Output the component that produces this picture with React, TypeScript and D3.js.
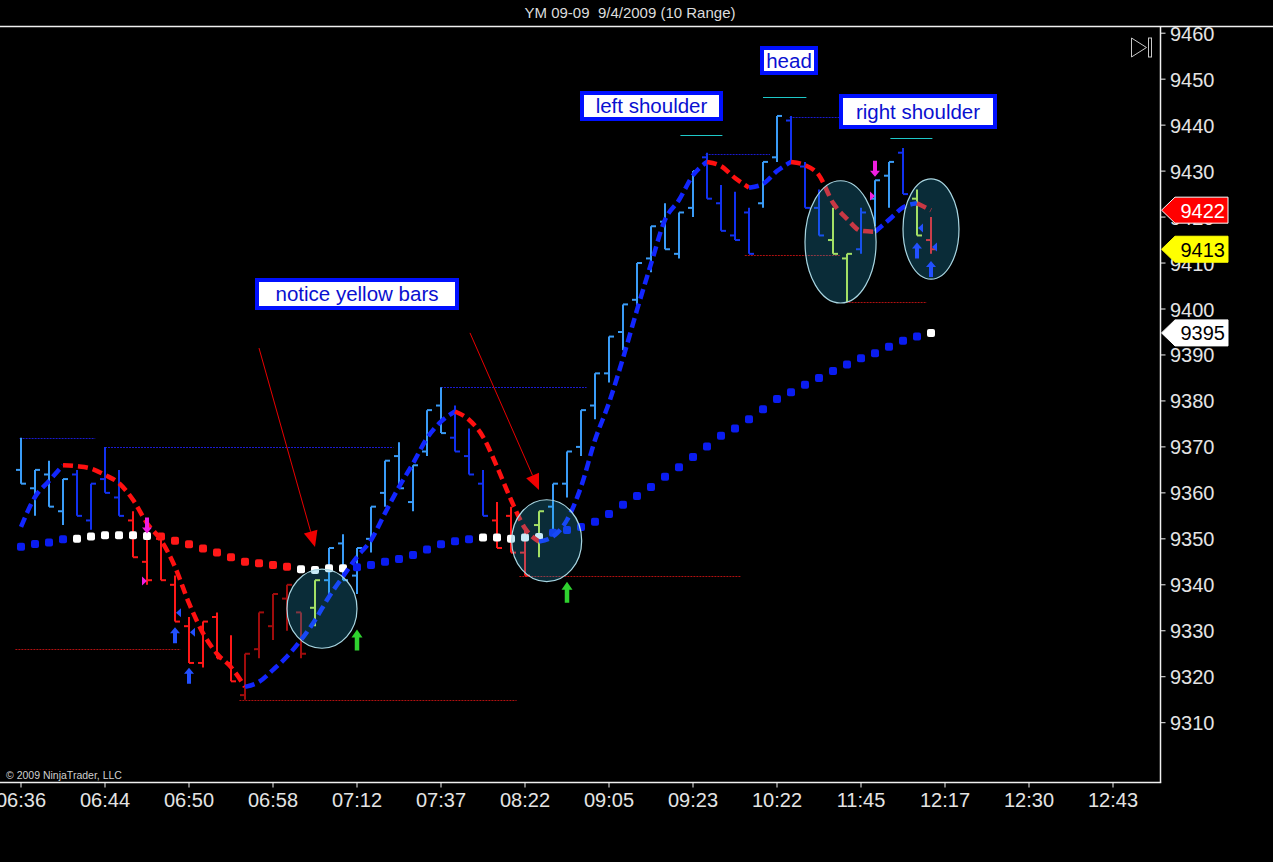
import * as d3 from "d3";
import { useEffect } from "react";

const W = 1273;
const H = 862;
const FONT = "'Liberation Sans', Arial, sans-serif";

// range bars, one per 10-point bar
const opens = [
  9365, 9361, 9364, 9356, 9364, 9354, 9363, 9359, 9354, 9345, 9350, 9340, 9331, 9323, 9333, 9323,
  9316, 9326, 9331, 9337, 9334, 9335, 9341, 9349, 9342, 9350, 9360, 9368, 9358, 9369, 9379, 9372,
  9368, 9362, 9354, 9355, 9347, 9353, 9357, 9362, 9370, 9379, 9386, 9395, 9402, 9411, 9419, 9412,
  9422, 9433, 9423, 9416, 9421, 9423, 9433, 9441, 9431, 9422, 9415, 9411, 9413, 9424, 9429, 9434,
  9424, 9415,
];
const highs = [
  9372, 9365, 9367, 9363, 9365, 9362, 9370, 9365, 9356, 9353, 9351, 9342, 9333, 9332, 9334, 9329,
  9325, 9334, 9338, 9340, 9334, 9341, 9348, 9351, 9348, 9357, 9367, 9371, 9366, 9378, 9383, 9379,
  9374, 9365, 9358, 9357, 9352, 9356, 9362, 9369, 9378, 9386, 9394, 9401, 9410, 9418, 9423, 9421,
  9430, 9434, 9427, 9425.5, 9422, 9432, 9442, 9442, 9432, 9426, 9422, 9412, 9422, 9428, 9432, 9435,
  9426, 9420,
];
const lows = [
  9362, 9355, 9357, 9353, 9355, 9352, 9360, 9355, 9346, 9340, 9341, 9332, 9323, 9322, 9324, 9319,
  9315, 9324, 9328, 9330, 9324, 9331, 9338, 9341, 9338, 9347, 9357, 9361, 9356, 9368, 9373, 9369,
  9364, 9355, 9348, 9347, 9342, 9346, 9352, 9359, 9368, 9376, 9384, 9391, 9400, 9408, 9413, 9411,
  9420, 9424, 9417, 9415, 9412, 9422, 9432, 9432, 9422, 9416, 9412, 9401.5, 9412, 9418, 9422, 9425,
  9416, 9412,
];
const closes = [
  9362, 9365, 9357, 9363, 9355, 9362, 9360, 9355, 9346, 9341, 9341, 9332, 9323, 9332, 9324, 9319,
  9325, 9334, 9338, 9340, 9325, 9341, 9348, 9341, 9348, 9357, 9367, 9361, 9366, 9378, 9373, 9369,
  9364, 9355, 9348, 9347, 9342, 9356, 9362, 9369, 9378, 9386, 9394, 9401, 9410, 9418, 9413, 9421,
  9430, 9424, 9417, 9415, 9412, 9432, 9442, 9432, 9422, 9416, 9412, 9412, 9421, 9428, 9432, 9425,
  9416, 9413,
];
const barColors = [
  "lb", "lb", "lb", "lb", "db", "db", "db", "db", "r", "r", "r", "r", "r", "r", "r", "r",
  "dr", "dr", "dr", "dr", "dr", "y", "lb", "lb", "lb", "lb", "lb", "lb", "lb", "lb", "lb", "db",
  "db", "db", "r", "r", "r", "y", "lb", "lb", "lb", "lb", "lb", "lb", "lb", "lb", "lb", "lb",
  "lb", "db", "db", "db", "db", "lb", "lb", "db", "db", "db", "y", "y", "db", "lb", "lb", "db",
  "y", "r",
];

// slow average drawn as square dots
const smaValues = [
  9348.3, 9348.9, 9349.2, 9349.9, 9350.0, 9350.5, 9350.8, 9350.8, 9350.8, 9350.6, 9350.5, 9349.6,
  9348.8, 9347.9, 9347.0, 9346.0, 9345.0, 9344.7, 9344.3, 9343.9, 9343.4, 9343.2, 9343.6, 9343.6,
  9343.8, 9344.3, 9345.0, 9345.6, 9346.5, 9347.7, 9348.8, 9349.5, 9349.9, 9350.3, 9350.3, 9350.0,
  9350.3, 9350.4, 9351.3, 9351.9, 9352.6, 9353.7, 9355.4, 9357.4, 9359.3, 9361.3, 9363.5, 9365.6,
  9367.8, 9370.1, 9372.4, 9374.0, 9376.0, 9378.2, 9380.4, 9381.9, 9383.5, 9385.0, 9386.5, 9387.9,
  9389.3, 9390.4, 9391.8, 9393.1, 9394.0, 9394.8,
];
const smaColors = [
  "b", "b", "b", "b", "w", "w", "w", "w", "w", "w", "r", "r", "r", "r", "r", "r",
  "r", "r", "r", "r", "w", "w", "w", "w", "b", "b", "b", "b", "b", "b", "b", "b",
  "b", "w", "w", "w", "w", "w", "b", "b", "b", "b", "b", "b", "b", "b", "b", "b",
  "b", "b", "b", "b", "b", "b", "b", "b", "b", "b", "b", "b", "b", "b", "b", "b",
  "b", "w",
];

// fast average drawn dashed, red while falling
const hmaValues = [
  9352.6, 9359.1, 9362.6, 9366.0, 9365.8, 9365.3, 9363.9, 9362.1, 9358.5, 9353.4, 9349.7, 9343.9,
  9336.0, 9329.5, 9325.0, 9322.1, 9317.8, 9318.9, 9321.5, 9324.4, 9328.0, 9332.3, 9337.4, 9341.8,
  9346.1, 9349.7, 9355.6, 9361.3, 9366.4, 9371.9, 9375.5, 9377.7, 9375.9, 9372.2, 9365.7, 9358.5,
  9352.3, 9349.4, 9350.5, 9354.1, 9361.3, 9371.5, 9379.6, 9389.3, 9399.8, 9409.8, 9419.4, 9423.7,
  9429.1, 9432.0, 9431.1, 9428.5, 9426.4, 9427.2, 9430.0, 9432.0, 9431.3, 9429.1, 9423.1, 9419.6,
  9417.0, 9416.8, 9419.4, 9422.1, 9423.0, 9421.5,
];

const timeLabels = [
  "06:36", "06:44", "06:50", "06:58", "07:12", "07:37", "08:22", "09:05", "09:23", "10:22",
  "11:45", "12:17", "12:30", "12:43",
];
const priceTicks = [9310, 9320, 9330, 9340, 9350, 9360, 9370, 9380, 9390, 9400, 9410, 9420, 9430, 9440, 9450, 9460];

// swing high / low lines: price, from bar, to bar
const swingPrices = [9372, 9370, 9326, 9315, 9383, 9342, 9433.7, 9411.8, 9441.8, 9401.5];
const swingFrom = [-0.1, 6, -0.4, 15.6, 30, 35.6, 48.9, 51.7, 54.9, 58.9];
const swingTo = [5.3, 26.6, 11.4, 35.4, 40.4, 51.4, 53.5, 58.5, 58.5, 64.7];
const swingKinds = ["hi", "hi", "lo", "lo", "hi", "lo", "hi", "lo", "hi", "lo"];

// drawn shoulder levels
const levelPrices = [9437.9, 9446.2, 9437.1];
const levelFrom = [47.1, 53, 62.1];
const levelTo = [50.1, 56.1, 65.1];

// highlight ellipses: centre bar, centre price, half width in bars, half height in points
const ellBar = [21.5, 37.55, 58.54, 65.0];
const ellPrice = [9334.8, 9349.6, 9414.6, 9417.4];
const ellRBars = [2.5, 2.5, 2.54, 2.0];
const ellRPts = [8.6, 8.9, 13.3, 10.9];

// signal markers
const blueUpBars = [11, 12, 64, 65];
const blueUpPrices = [9329.0, 9320.2, 9412.7, 9408.7];
const greenUpBars = [24, 39];
const greenUpPrices = [9328.0, 9338.4];
const magDownBars = [9, 61];
const magDownPrices = [9352.9, 9430.5];
const magTriBars = [9, 61];
const magTriPrices = [9340.8, 9424.6];
const blueTriBars = [11, 12, 64, 65];
const blueTriPrices = [9333.9, 9329.7, 9417.6, 9413.5];

// hand drawn arrows: start bar/price, tip bar/price
const arrowFromBar = [17.0, 32.07];
const arrowFromPrice = [9391.5, 9394.8];
const arrowToBar = [21.0, 37.0];
const arrowToPrice = [9348.2, 9360.6];

const NOTES = [
  { text: "notice yellow bars", x: 255, y: 278, w: 204, h: 32 },
  { text: "left shoulder", x: 580, y: 91, w: 143, h: 30 },
  { text: "head", x: 760, y: 46, w: 58, h: 29 },
  { text: "right shoulder", x: 839, y: 94, w: 158, h: 35 },
];

const COLORS: Record<string, string> = {
  lb: "#3a9cf7",
  db: "#1232f0",
  r: "#ff1818",
  dr: "#a00c0c",
  y: "#ccf03c",
  b: "#0a1cf0",
  w: "#ffffff",
};

const HMA_UP = "#1226ff";
const HMA_DOWN = "#ff1010";

const upArrow = (cx: number, cy: number, w: number, h: number, hh: number, sw: number) => {
  const t = cy - h / 2;
  const b = cy + h / 2;
  return `M${cx},${t}L${cx + w / 2},${t + hh}L${cx + sw / 2},${t + hh}L${cx + sw / 2},${b}L${cx - sw / 2},${b}L${cx - sw / 2},${t + hh}L${cx - w / 2},${t + hh}Z`;
};
const downArrow = (cx: number, cy: number, w: number, h: number, hh: number, sw: number) => {
  const t = cy - h / 2;
  const b = cy + h / 2;
  return `M${cx},${b}L${cx + w / 2},${b - hh}L${cx + sw / 2},${b - hh}L${cx + sw / 2},${t}L${cx - sw / 2},${t}L${cx - sw / 2},${b - hh}L${cx - w / 2},${b - hh}Z`;
};

export default function App() {
  useEffect(() => {
    document.body.style.margin = "0";
    document.body.style.background = "#000";
  }, []);

  const x = d3.scaleLinear().domain([0, 78]).range([21, 21 + 14 * 78]);
  const y = d3.scaleLinear().domain([9400, 9310]).range([309, 722.7]);
  const axisX = 1160.5;
  const axisY = 782.5;

  // split the fast average into runs of rising / falling
  const runs: { color: string; pts: [number, number][] }[] = [];
  for (let i = 1; i < hmaValues.length; i++) {
    const color = hmaValues[i] < hmaValues[i - 1] ? HMA_DOWN : HMA_UP;
    const p0: [number, number] = [x(i - 1), y(hmaValues[i - 1])];
    const p1: [number, number] = [x(i), y(hmaValues[i])];
    const last = runs[runs.length - 1];
    if (last && last.color === color) last.pts.push(p1);
    else runs.push({ color, pts: [p0, p1] });
  }
  const line = d3.line<[number, number]>().curve(d3.curveMonotoneX);

  const hmaLast = hmaValues[hmaValues.length - 1];
  const closeLast = closes[closes.length - 1];
  const smaLast = smaValues[smaValues.length - 1];
  const markers = [
    { v: hmaLast, fill: "#ff0000", stroke: "#ffffff", text: "#ffffff" },
    { v: closeLast, fill: "#ffff00", stroke: "#ffff00", text: "#000000" },
    { v: smaLast, fill: "#ffffff", stroke: "#ffffff", text: "#000000" },
  ];

  return (
    <svg
      width={W}
      height={H}
      style={{ position: "absolute", left: 0, top: 0, display: "block", background: "#000" }}
      fontFamily={FONT}
    >
      <rect x={0} y={0} width={W} height={H} fill="#000" />

      <text
        x={630}
        y={18}
        textAnchor="middle"
        fontSize={15}
        fill="#dcdcdc"
        xmlSpace="preserve"
        style={{ whiteSpace: "pre" }}
      >
        {"YM 09-09  9/4/2009 (10 Range)"}
      </text>
      <line x1={0} x2={W} y1={26.5} y2={26.5} stroke="#f0f0f0" strokeWidth={1.5} />

      {/* swing lines */}
      {swingPrices.map((p, i) => (
        <line
          key={"s" + i}
          x1={Math.max(x(swingFrom[i]), 0)}
          x2={x(swingTo[i])}
          y1={Math.round(y(p)) + 0.5}
          y2={Math.round(y(p)) + 0.5}
          stroke={swingKinds[i] === "hi" ? "#1a1ad0" : "#b01010"}
          strokeWidth={1}
          strokeDasharray="2 1"
        />
      ))}

      {/* bars */}
      {opens.map((o, i) => {
        const cx = x(i);
        const c = COLORS[barColors[i]];
        return (
          <g key={"b" + i} stroke={c} strokeWidth={2}>
            <line x1={cx} x2={cx} y1={y(highs[i])} y2={y(lows[i])} />
            <line x1={cx - 5} x2={cx} y1={y(o)} y2={y(o)} />
            <line x1={cx} x2={cx + 5} y1={y(closes[i])} y2={y(closes[i])} />
          </g>
        );
      })}

      {/* slow average dots */}
      {smaValues.map((v, i) => (
        <rect
          key={"d" + i}
          x={x(i) - 4}
          y={y(v) - 4}
          width={8}
          height={8}
          rx={2}
          fill={COLORS[smaColors[i]]}
        />
      ))}

      {/* fast average */}
      {runs.map((r, i) => (
        <path
          key={"h" + i}
          d={line(r.pts) || ""}
          fill="none"
          stroke={r.color}
          strokeWidth={4.5}
          strokeDasharray="10 5"
        />
      ))}

      {/* level lines */}
      {levelPrices.map((p, i) => (
        <line
          key={"l" + i}
          x1={x(levelFrom[i])}
          x2={x(levelTo[i])}
          y1={Math.round(y(p)) + 0.5}
          y2={Math.round(y(p)) + 0.5}
          stroke="#1ec8c8"
          strokeWidth={1}
        />
      ))}

      {/* ellipses */}
      {ellBar.map((b, i) => (
        <ellipse
          key={"e" + i}
          cx={x(b)}
          cy={y(ellPrice[i])}
          rx={x(ellRBars[i]) - x(0)}
          ry={y(9400 - ellRPts[i]) - y(9400)}
          fill="rgba(40,175,225,0.25)"
          stroke="#a8d6e2"
          strokeWidth={1.2}
        />
      ))}

      {/* markers */}
      {blueUpBars.map((b, i) => (
        <path key={"bu" + i} d={upArrow(x(b), y(blueUpPrices[i]), 10, 16, 6, 4)} fill="#2250ff" />
      ))}
      {greenUpBars.map((b, i) => (
        <path key={"gu" + i} d={upArrow(x(b), y(greenUpPrices[i]), 11, 21, 8, 4.5)} fill="#2fd22f" />
      ))}
      {magDownBars.map((b, i) => (
        <path key={"md" + i} d={downArrow(x(b), y(magDownPrices[i]), 10, 16, 6, 4)} fill="#f01ee0" />
      ))}
      {magTriBars.map((b, i) => {
        const tx = x(b);
        const ty = y(magTriPrices[i]);
        return <path key={"mt" + i} d={`M${tx},${ty}L${tx - 5},${ty - 4.5}L${tx - 5},${ty + 4.5}Z`} fill="#f01ee0" />;
      })}
      {blueTriBars.map((b, i) => {
        const tx = x(b) + 1;
        const ty = y(blueTriPrices[i]);
        return <path key={"bt" + i} d={`M${tx},${ty}L${tx + 5},${ty - 4.5}L${tx + 5},${ty + 4.5}Z`} fill="#2250ff" />;
      })}

      {/* hand drawn arrows */}
      {arrowFromBar.map((b, i) => {
        const x0 = x(b);
        const y0 = y(arrowFromPrice[i]);
        const x1 = x(arrowToBar[i]);
        const y1 = y(arrowToPrice[i]);
        const ang = Math.atan2(y1 - y0, x1 - x0);
        const len = 16;
        const hw = 7;
        const bx = x1 - len * Math.cos(ang);
        const by = y1 - len * Math.sin(ang);
        const px = -Math.sin(ang) * hw;
        const py = Math.cos(ang) * hw;
        return (
          <g key={"a" + i}>
            <line x1={x0} y1={y0} x2={bx} y2={by} stroke="#e80000" strokeWidth={1} />
            <path d={`M${x1},${y1}L${bx + px},${by + py}L${bx - px},${by - py}Z`} fill="#f00000" />
          </g>
        );
      })}

      {/* notes */}
      {NOTES.map((n) => (
        <g key={n.text}>
          <rect x={n.x + 2} y={n.y + 2} width={n.w - 4} height={n.h - 4} fill="#ffffff" stroke="#0010ff" strokeWidth={4} />
          <text
            x={n.x + n.w / 2}
            y={n.y + n.h / 2 + 7}
            textAnchor="middle"
            fontSize={20.5}
            fill="#0a10d0"
          >
            {n.text}
          </text>
        </g>
      ))}

      {/* right axis */}
      <line x1={axisX} x2={axisX} y1={26.5} y2={axisY} stroke="#f0f0f0" strokeWidth={1.5} />
      {priceTicks.map((p) => (
        <g key={"p" + p}>
          <line x1={axisX} x2={axisX + 5} y1={y(p)} y2={y(p)} stroke="#f0f0f0" strokeWidth={1} />
          <text x={1170} y={y(p) + 7.5} fontSize={20} fill="#e4e4e4">
            {p}
          </text>
        </g>
      ))}
      {markers.map((m) => {
        const cy = y(m.v);
        return (
          <g key={"m" + m.fill}>
            <path
              d={`M${axisX + 1},${cy}L${1175},${cy - 13}L${1228},${cy - 13}L${1228},${cy + 13}L${1175},${cy + 13}Z`}
              fill={m.fill}
              stroke={m.stroke}
              strokeWidth={1}
            />
            <text x={1225} y={cy + 7.5} textAnchor="end" fontSize={20} fill={m.text}>
              {Math.round(m.v)}
            </text>
          </g>
        );
      })}

      {/* play icon */}
      <path d="M1131.5,38L1146.5,47.5L1131.5,57Z" fill="none" stroke="#c8c8c8" strokeWidth={1} />
      <rect x={1148.5} y={38} width={3} height={19} fill="none" stroke="#c8c8c8" strokeWidth={1} />

      {/* bottom axis */}
      <line x1={0} x2={axisX + 0.75} y1={axisY} y2={axisY} stroke="#f0f0f0" strokeWidth={1.5} />
      {timeLabels.map((t, k) => (
        <g key={t}>
          <line x1={x(k * 6)} x2={x(k * 6)} y1={axisY} y2={axisY + 5} stroke="#f0f0f0" strokeWidth={1} />
          <text x={x(k * 6)} y={807} textAnchor="middle" fontSize={20} fill="#e4e4e4">
            {t}
          </text>
        </g>
      ))}
      <text x={6} y={779} fontSize={10.5} fill="#d0d0d0">
        © 2009 NinjaTrader, LLC
      </text>
    </svg>
  );
}
